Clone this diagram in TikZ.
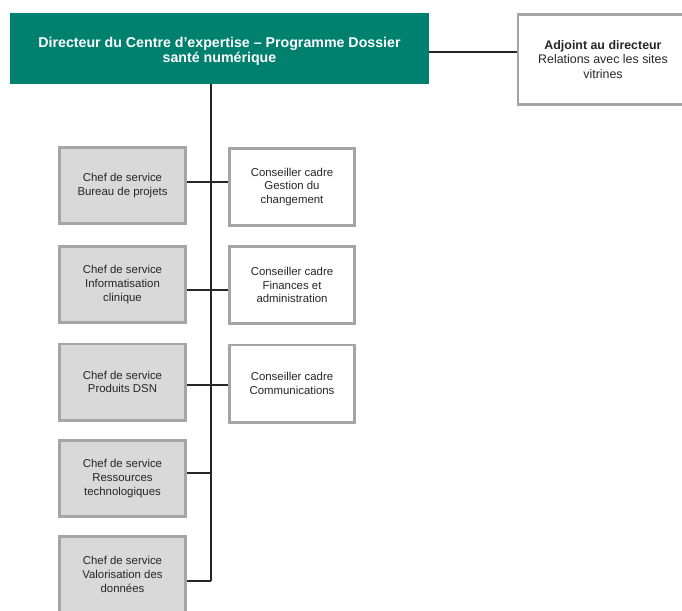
\documentclass[tikz,border=0pt]{standalone}
\usepackage{fontspec}
\setmainfont{Liberation Sans}
\definecolor{teal}{HTML}{00806E}
\definecolor{boxgray}{HTML}{D9D9D9}
\definecolor{edgegray}{HTML}{A5A5A5}
\definecolor{ink}{HTML}{262626}
\begin{document}
\begin{tikzpicture}[x=1pt,y=-1pt,
  unitbox/.style={draw=edgegray, line width=2.6pt, inner sep=2pt, align=center,
    text=ink, font=\fontsize{11.4}{13.6}\selectfont, anchor=center},
  chefbox/.style={unitbox, fill=boxgray, minimum width=126.4pt, minimum height=76.4pt},
  advbox/.style={unitbox, fill=white, minimum width=125.4pt, minimum height=77.4pt},
  link/.style={draw=ink, line width=1.3pt}]
\useasboundingbox (0,0) rectangle (682,610);
\fill[white] (0,0) rectangle (682,610);
\clip (0,0) rectangle (682,610);

% top of the chart
\node[fill=teal, minimum width=419pt, minimum height=71pt] (dir) at (219.5,48.5) {};
\node[text=white, align=center, font=\fontsize{14.2}{15.2}\selectfont\bfseries]
  (dirtitle) at ([yshift=-3pt]dir.center)
  {Directeur du Centre d'expertise -- Programme Dossier\\santé numérique};
\node[unitbox, fill=white, minimum width=170.4pt, minimum height=90.4pt,
      font=\fontsize{12.4}{14.8}\selectfont] (adj) at (603,59.5)
  {\textbf{Adjoint au directeur}\\Relations avec les sites\\vitrines};

% heads of service
\node[chefbox] (l1) at (122.5,185.5) {Chef de service\\Bureau de projets};
\node[chefbox] (l2) at (122.5,284.5) {Chef de service\\Informatisation\\clinique};
\node[chefbox] (l3) at (122.5,382)   {Chef de service\\Produits DSN};
\node[chefbox] (l4) at (122.5,478.5) {Chef de service\\Ressources\\technologiques};
\node[chefbox] (l5) at (122.5,574.5) {Chef de service\\Valorisation des\\données};

% senior advisers
\node[advbox] (r1) at (292,187)   {Conseiller cadre\\Gestion du\\changement};
\node[advbox] (r2) at (292,285)   {Conseiller cadre\\Finances et\\administration};
\node[advbox] (r3) at (292,383.5) {Conseiller cadre\\Communications};

% connectors
\coordinate (spinebot) at (211,581);
\draw[link] ([yshift=-3.5pt]dir.east) -- ([yshift=-3.5pt]dir.east -| adj.west);
\draw[link] (dir.south -| spinebot) -- (spinebot);
\draw[link] ([yshift=3.5pt]l1.east) -- ([yshift=3.5pt]l1.east -| r1.west);
\draw[link] ([yshift=-5.5pt]l2.east) -- ([yshift=-5.5pt]l2.east -| r2.west);
\draw[link] ([yshift=-3pt]l3.east) -- ([yshift=-3pt]l3.east -| r3.west);
\draw[link] ([yshift=5.5pt]l4.east) -- ([yshift=5.5pt]l4.east -| spinebot);
\draw[link] ([yshift=-6.5pt]l5.east) -- (spinebot);
\end{tikzpicture}
\end{document}
